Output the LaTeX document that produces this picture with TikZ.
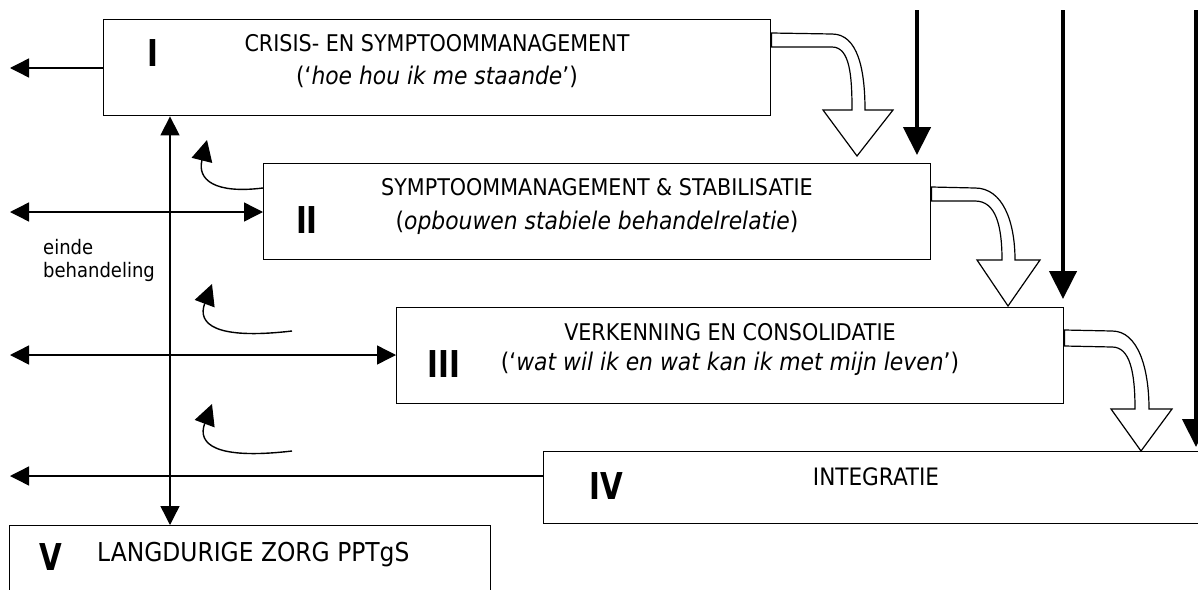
\documentclass[tikz,border=0pt]{standalone}
\usepackage{fontspec}
\setmainfont{DejaVu Sans Condensed}
\usetikzlibrary{arrows.meta}
\begin{document}
\begin{tikzpicture}[x=1pt,y=-1pt,
  box/.style={draw, line width=1.4pt, anchor=north west, inner sep=0pt, minimum width=667pt, minimum height=96pt},
  thin/.style={line width=1.4pt},
  ltip/.style={-{Triangle[length=19pt,width=19pt]}},
  dtip/.style={{Triangle[length=19pt,width=19pt]}-{Triangle[length=19pt,width=19pt]}},
  heavy/.style={line width=4.5pt, -{Triangle[length=28pt,width=27pt]}},
  curv/.style={line width=1.4pt, -{Triangle[length=21pt,width=21pt]}},
  hollow/.style={draw, fill=white, line width=1.2pt, line join=miter},
  lbl/.style={font=\fontsize{23}{27}\selectfont, inner sep=0pt},
  ital/.style={font=\fontsize{24.3}{28}\selectfont, inner sep=0pt},
  small/.style={font=\fontsize{20}{25}\selectfont, inner sep=0pt, anchor=west},
  num/.style={font=\fontsize{37}{40}\selectfont\bfseries, inner sep=0pt, xscale=0.88}
]
\useasboundingbox (0,0) rectangle (1198,589);
\clip (0,0) rectangle (1198,589);

% boxes
\node[box] (b1) at (103,19) {};
\node[box] (b2) at (263,163) {};
\node[box] (b3) at (396,307) {};
\node[box, minimum width=680pt, minimum height=72pt] (b4) at (543,451) {};
\node[box, minimum width=481pt, minimum height=90pt] (b5) at (9,525) {};

% texts
\node[lbl] (t1a) at (437,43) {CRISIS- EN SYMPTOOMMANAGEMENT};
\node[ital] (t1b) at (437,77) {(‘\textit{hoe hou ik me staande}’)};
\node[lbl] (t2a) at (597,187) {SYMPTOOMMANAGEMENT \& STABILISATIE};
\node[ital] (t2b) at (597,223) {(\textit{opbouwen stabiele behandelrelatie})};
\node[lbl] (t3a) at (730,332) {VERKENNING EN CONSOLIDATIE};
\node[ital] (t3b) at (730,364) {(‘\textit{wat wil ik en wat kan ik met mijn leven}’)};
\node[lbl, font=\fontsize{24}{28}\selectfont] (t4a) at (876,477) {INTEGRATIE};
\node[lbl, anchor=west, font=\fontsize{26}{30}\selectfont] (t5a) at (97,555) {LANGDURIGE ZORG PPTgS};

\node[num] (n1) at (153,53) {I};
\node[num] (n2) at (307,220) {II};
\node[num] (n3) at (444,364) {III};
\node[num] (n4) at (606,486) {IV};
\node[num] (n5) at (51,557) {V};

\node[small] (e1) at (43,247) {einde};
\node[small] (e2) at (43,272) {behandeling};

% free ends
\coordinate (l1) at (10,68);
\coordinate (l2) at (10,212);
\coordinate (l3) at (10,355);
\coordinate (l4) at (10,476);

% horizontal arrows
\draw[thin,ltip] (b1.west |- l1) -- (l1);
\draw[thin,dtip] (l2) -- (b2.west |- l2);
\draw[thin,dtip] (l3) -- (b3.west |- l3);
\draw[thin,ltip] (b4.west |- l4) -- (l4);

% vertical double arrow
\coordinate (vx) at (170,0);
\draw[thin,dtip] (vx |- b1.south) -- (vx |- b5.north);

% curved return arrows
\coordinate (c1) at (207,140);
\coordinate (c2) at (212,284);
\coordinate (c3) at (212,404);
\coordinate (s2) at (292,331);
\coordinate (s3) at (292,451);
\draw[curv] (b2.west |- 0,188) .. controls (215,194) and (197,180) .. (c1);
\draw[curv] (s2) .. controls (215,340) and (197,324) .. (c2);
\draw[curv] (s3) .. controls (215,460) and (197,444) .. (c3);

% heavy vertical arrows
\coordinate (h1) at (917,10);
\coordinate (h2) at (1063,10);
\coordinate (h3) at (1196,10);
\draw[heavy] (h1) -- (917,155);
\draw[heavy] (h2) -- (1063,299);
\draw[heavy] (h3) -- (1196,447);

% hollow curved block arrows
\path[hollow] (b1.east |- 0,33) -- (832,34) .. controls (858,34) and (865,70) .. (865,110)
  -- (893,110) -- (857,156) -- (823,110) -- (852,110)
  .. controls (852,76) and (850,47) .. (832,47) -- (b1.east |- 0,47) -- cycle;
\path[hollow] (b2.east |- 0,187) -- (975,188) .. controls (1003,188) and (1015,222) .. (1015,260)
  -- (1040,260) -- (1008,306) -- (977,260) -- (1002,260)
  .. controls (1002,226) and (996,201) .. (975,201) -- (b2.east |- 0,201) -- cycle;
\path[hollow] (b3.east |- 0,330) -- (1112,331) .. controls (1138,331) and (1149,368) .. (1149,409)
  -- (1172,409) -- (1141,451) -- (1111,409) -- (1135,409)
  .. controls (1135,372) and (1130,347) .. (1112,347) -- (b3.east |- 0,346) -- cycle;
\end{tikzpicture}
\end{document}
